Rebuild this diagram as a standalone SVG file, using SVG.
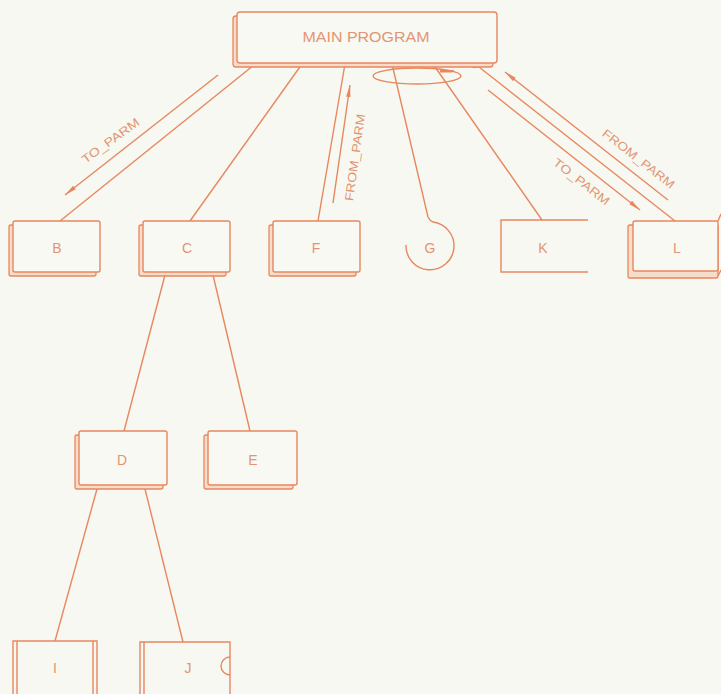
<svg xmlns="http://www.w3.org/2000/svg" width="721" height="694" viewBox="0 0 721 694">
  <style>
    .ln { fill: none; stroke: #e8875f; stroke-width: 1.4; }
    .shadow { fill: #f6dccb; stroke: #e8875f; stroke-width: 1.3; }
    .face { fill: #f8f9f3; stroke: #e8875f; stroke-width: 1.4; }
    .lbl { font-family: "Liberation Sans", Arial, sans-serif; fill: #e29572; text-anchor: middle; }
    .box-t { font-size: 14px; }
    .flow-t { font-size: 12px; }
  </style>
  <defs>
    <marker id="arrow" viewBox="0 0 12 6" refX="12" refY="3" markerWidth="12" markerHeight="6" markerUnits="userSpaceOnUse" orient="auto">
      <path d="M0,0.8 L12,3 L0,5.2 Z" fill="#e8875f"/>
    </marker>
  </defs>
  <rect width="721" height="694" fill="#f6f8f1"/>

  <!-- connectors -->
  <g id="connectors">
    <line class="ln" x1="254" y1="65" x2="60" y2="221"/>
    <line class="ln" x1="302" y1="64" x2="190" y2="221"/>
    <line class="ln" x1="345" y1="64" x2="318" y2="221"/>
    <path class="ln" d="M392,64 L428,217 Q430,221 433,222"/>
    <line class="ln" x1="433" y1="64" x2="542" y2="220"/>
    <line class="ln" x1="479" y1="67" x2="675" y2="221"/>
    <line class="ln" x1="165" y1="275" x2="124" y2="431"/>
    <line class="ln" x1="213" y1="275" x2="250" y2="431"/>
    <line class="ln" x1="97" y1="489" x2="55" y2="641"/>
    <line class="ln" x1="145" y1="489" x2="183" y2="642"/>
    <!-- parameter flows -->
    <line class="ln" x1="218" y1="75" x2="65" y2="195" marker-end="url(#arrow)"/>
    <line class="ln" x1="333" y1="203" x2="350" y2="85" marker-end="url(#arrow)"/>
    <line class="ln" x1="668" y1="200" x2="505" y2="72" marker-end="url(#arrow)"/>
    <line class="ln" x1="488" y1="90" x2="640" y2="210" marker-end="url(#arrow)"/>
    <!-- loop around G and K calls -->
    <ellipse class="ln" cx="417" cy="76" rx="44" ry="8"/>
    <path d="M440,69.5 L454,70 L452,72.5 L440,72.5 Z" fill="#e8875f"/>
    <circle class="ln" cx="475" cy="62" r="5.5"/>
  </g>

  <g class="lbl flow-t">
    <text transform="translate(113,144) rotate(-36)" textLength="68" lengthAdjust="spacingAndGlyphs">TO_PARM</text>
    <text transform="translate(359,158) rotate(-82)" textLength="88" lengthAdjust="spacingAndGlyphs">FROM_PARM</text>
    <text transform="translate(636,162) rotate(38)" textLength="88" lengthAdjust="spacingAndGlyphs">FROM_PARM</text>
    <text transform="translate(579,185) rotate(38)" textLength="68" lengthAdjust="spacingAndGlyphs">TO_PARM</text>
  </g>

  <g id="main">
    <rect class="shadow" x="233" y="16" width="260" height="51" rx="3"/>
    <rect class="face" x="237" y="12" width="260" height="51" rx="3"/>
    <text class="lbl" x="366" y="42" font-size="14" textLength="127" lengthAdjust="spacingAndGlyphs">MAIN PROGRAM</text>
  </g>

  <g id="node-b">
    <rect class="shadow" x="9" y="225" width="87" height="51" rx="2"/>
    <rect class="face" x="13" y="221" width="87" height="51" rx="2"/>
    <text class="lbl box-t" x="57" y="253">B</text>
  </g>
  <g id="node-c">
    <rect class="shadow" x="139" y="225" width="87" height="51" rx="2"/>
    <rect class="face" x="143" y="221" width="87" height="51" rx="2"/>
    <text class="lbl box-t" x="187" y="253">C</text>
  </g>
  <g id="node-f">
    <rect class="shadow" x="269" y="225" width="87" height="51" rx="2"/>
    <rect class="face" x="273" y="221" width="87" height="51" rx="2"/>
    <text class="lbl box-t" x="316" y="253">F</text>
  </g>
  <g id="node-g">
    <path class="ln" d="M433,222 A24,24 0 1 1 406,245"/>
    <text class="lbl box-t" x="430" y="253">G</text>
  </g>
  <g id="node-k">
    <path class="ln" d="M588,220 L501,220 L501,272 L588,272"/>
    <text class="lbl box-t" x="543" y="253">K</text>
  </g>
  <g id="node-l">
    <rect class="shadow" x="628" y="225" width="90" height="53" rx="2"/>
    <rect class="face" x="633" y="221" width="85" height="50" rx="2"/>
    <path class="ln" d="M718,221 L721,214 M718,276 L721,270"/>
    <text class="lbl box-t" x="677" y="253">L</text>
  </g>
  <g id="node-d">
    <rect class="shadow" x="75" y="435" width="88" height="54" rx="2"/>
    <rect class="face" x="79" y="431" width="88" height="54" rx="2"/>
    <text class="lbl box-t" x="122" y="465">D</text>
  </g>
  <g id="node-e">
    <rect class="shadow" x="204" y="435" width="89" height="54" rx="2"/>
    <rect class="face" x="208" y="431" width="89" height="54" rx="2"/>
    <text class="lbl box-t" x="253" y="465">E</text>
  </g>
  <g id="node-i">
    <path class="ln" d="M13,700 L13,641 L97,641 L97,700 M17,641 L17,700 M93,641 L93,700"/>
    <text class="lbl box-t" x="55" y="673">I</text>
  </g>
  <g id="node-j">
    <path class="ln" d="M140,700 L140,642 L230,642 L230,700 M144,642 L144,700"/>
    <path class="ln" d="M230,657 A9,9 0 0 0 230,675"/>
    <text class="lbl box-t" x="188" y="673">J</text>
  </g>
</svg>
